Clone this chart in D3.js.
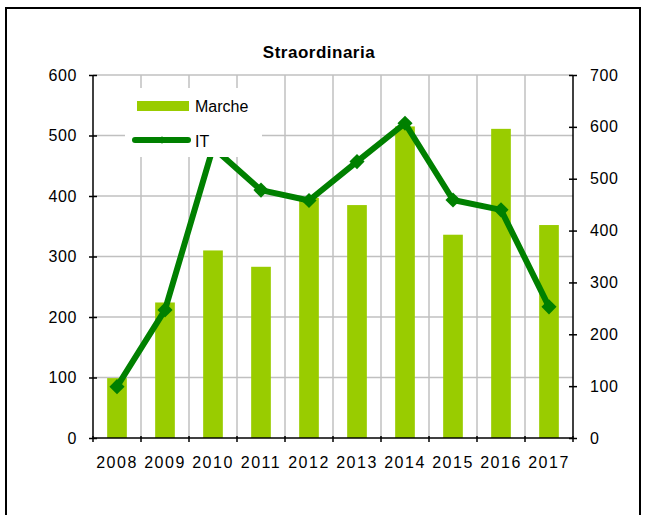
<!DOCTYPE html>
<html>
<head>
<meta charset="utf-8">
<script src="https://cdn.jsdelivr.net/npm/d3@7/dist/d3.min.js"></script>
<style>
  html, body { margin: 0; padding: 0; background: #fff; }
  svg { display: block; font-family: "Liberation Sans", Arial, sans-serif; }
</style>
</head>
<body>
<svg id="chart" width="645" height="515"></svg>
<script>
// Annual figures: bars for Marche (left axis), line for IT (right axis)
const years = ["2008", "2009", "2010", "2011", "2012", "2013", "2014", "2015", "2016", "2017"];
const marche = [99, 224, 310, 283, 397, 385, 515, 336, 511, 352];
const italia = [99, 247, 560, 478, 458, 533, 607, 459, 440, 253];
const leftTicks = [0, 100, 200, 300, 400, 500, 600];
const rightTicks = [0, 100, 200, 300, 400, 500, 600, 700];
const title = "Straordinaria";
const seriesNames = ["Marche", "IT"];

const barColor = "#99CC00";
const lineColor = "#008000";
const gridColor = "#C0C0C0";

const svg = d3.select("#chart");
const plot = { left: 93, right: 573, top: 75, bottom: 438 };

const x = d3.scaleBand().domain(years).range([plot.left, plot.right]).padding(0);
const yL = d3.scaleLinear().domain([0, 600]).range([plot.bottom, plot.top]);
const yR = d3.scaleLinear().domain([0, 700]).range([plot.bottom, plot.top]);

// Outer frame
svg.append("rect")
  .attr("x", 6).attr("y", 8).attr("width", 634).attr("height", 530)
  .attr("fill", "none").attr("stroke", "#000").attr("stroke-width", 2);

// Title
svg.append("text")
  .attr("x", 319).attr("y", 58)
  .attr("text-anchor", "middle")
  .attr("font-size", 17).attr("font-weight", "bold")
  .attr("letter-spacing", 0.5)
  .text(title);

// Gridlines
const grid = svg.append("g").attr("stroke", gridColor).attr("stroke-width", 1.5);
grid.selectAll("line.h").data(leftTicks.filter(d => d > 0)).join("line")
  .attr("class", "h")
  .attr("x1", plot.left).attr("x2", plot.right)
  .attr("y1", d => yL(d)).attr("y2", d => yL(d));
grid.selectAll("line.v").data(years.slice(1)).join("line")
  .attr("class", "v")
  .attr("x1", d => x(d)).attr("x2", d => x(d))
  .attr("y1", plot.top).attr("y2", plot.bottom);

// Bars
const barW = x.bandwidth() * 0.41;
svg.append("g").selectAll("rect").data(years).join("rect")
  .attr("x", d => x(d) + (x.bandwidth() - barW) / 2)
  .attr("width", barW)
  .attr("y", (d, i) => yL(marche[i]))
  .attr("height", (d, i) => plot.bottom - yL(marche[i]))
  .attr("fill", barColor);

// Line with diamond markers
const cx = d => x(d) + x.bandwidth() / 2;
const line = d3.line().x((d, i) => cx(years[i])).y(d => yR(d));
svg.append("path").datum(italia)
  .attr("d", line)
  .attr("fill", "none").attr("stroke", lineColor)
  .attr("stroke-width", 6).attr("stroke-linejoin", "round");
const diamond = d3.symbol().type(d3.symbolSquare).size(115);
svg.append("g").selectAll("path").data(italia).join("path")
  .attr("d", diamond)
  .attr("transform", (d, i) => `translate(${cx(years[i])},${yR(d)}) rotate(45)`)
  .attr("fill", lineColor);

// Left axis
const axL = svg.append("g").attr("transform", `translate(${plot.left},0)`)
  .call(d3.axisLeft(yL).tickValues(leftTicks).tickSize(4));
axL.selectAll(".tick line").attr("x1", 4).attr("x2", -4).attr("stroke", "#000").attr("stroke-width", 1.5);
axL.select(".domain").attr("d", `M0,${plot.top}V${plot.bottom}`).attr("stroke", "#000").attr("stroke-width", 1.5);
axL.selectAll(".tick text").attr("x", -16).attr("font-size", 16).attr("font-family", "Liberation Sans, Arial, sans-serif").attr("fill", "#000").attr("letter-spacing", 0.6);

// Right axis
const axR = svg.append("g").attr("transform", `translate(${plot.right},0)`)
  .call(d3.axisRight(yR).tickValues(rightTicks).tickSize(4));
axR.selectAll(".tick line").attr("x1", -4).attr("x2", 4).attr("stroke", "#000").attr("stroke-width", 1.5);
axR.select(".domain").attr("d", `M0,${plot.top}V${plot.bottom}`).attr("stroke", "#000").attr("stroke-width", 1.5);
axR.selectAll(".tick text").attr("x", 17).attr("font-size", 16).attr("font-family", "Liberation Sans, Arial, sans-serif").attr("fill", "#000").attr("letter-spacing", 0.6);

// Bottom axis: ticks on category boundaries, labels centred
const axB = svg.append("g").attr("transform", `translate(0,${plot.bottom})`)
  .call(d3.axisBottom(x).tickSize(0));
axB.select(".domain").attr("d", `M${plot.left},0H${plot.right}`).attr("stroke", "#000").attr("stroke-width", 1.5);
axB.selectAll(".tick text").attr("y", 19).attr("dy", "0.71em").attr("font-size", 16)
  .attr("font-family", "Liberation Sans, Arial, sans-serif").attr("fill", "#000").attr("letter-spacing", 1.5);
axB.selectAll("line.boundary").data(years.concat(["end"])).join("line")
  .attr("class", "boundary")
  .attr("x1", d => d === "end" ? plot.right : x(d))
  .attr("x2", d => d === "end" ? plot.right : x(d))
  .attr("y1", -2).attr("y2", 4)
  .attr("stroke", "#000").attr("stroke-width", 1.5);

// Legend
const lg = svg.append("g");
lg.append("rect").attr("x", 125).attr("y", 88).attr("width", 137).attr("height", 69).attr("fill", "#fff");
lg.append("rect").attr("x", 137).attr("y", 101).attr("width", 52).attr("height", 10).attr("fill", barColor);
lg.append("text").attr("x", 195).attr("y", 106).attr("dy", "0.35em").attr("font-size", 16).text(seriesNames[0]);
lg.append("line").attr("x1", 135).attr("x2", 188).attr("y1", 140).attr("y2", 140)
  .attr("stroke", lineColor).attr("stroke-width", 6).attr("stroke-linecap", "round");
lg.append("path").attr("d", d3.symbol().type(d3.symbolSquare).size(30))
  .attr("transform", "translate(162,140) rotate(45)").attr("fill", lineColor);
lg.append("text").attr("x", 195).attr("y", 141).attr("dy", "0.35em").attr("font-size", 16).text(seriesNames[1]);
</script>
</body>
</html>
